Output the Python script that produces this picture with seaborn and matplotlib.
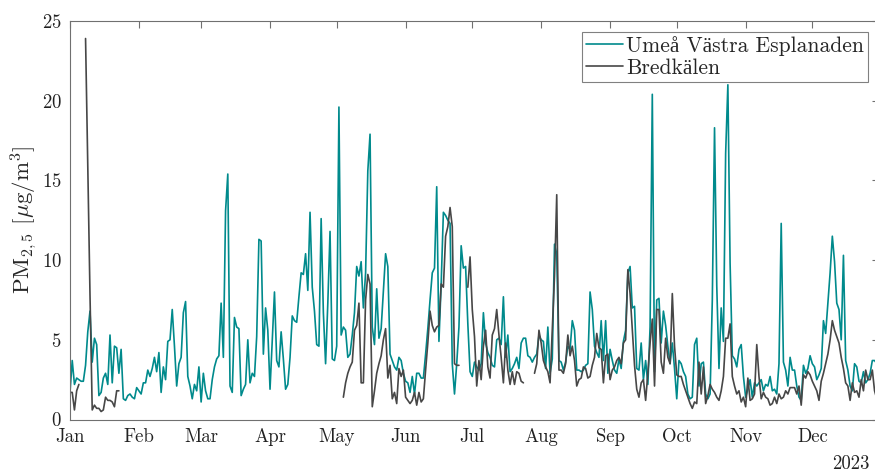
import numpy as np
import pandas as pd
import matplotlib
matplotlib.use("Agg")
import matplotlib.pyplot as plt
import matplotlib.dates as mdates
import seaborn as sns

nan = np.nan

# Daily PM2.5 values 2023, Umeå Västra Esplanaden (by month)
ume_jan = [1.7, 3.7, 2.2, 2.6, 2.5, 2.4, 2.4, 3.4, 5.5, 6.8, 3.6, 5.1, 4.7, 1.5, 1.7, 2.6, 2.9, 2.2, 5.3, 2.3,
           4.6, 4.5, 2.9, 4.4, 1.3, 1.2, 1.5, 1.6, 1.4, 1.3, 2.0]
ume_feb = [1.8, 1.6, 2.3, 2.3, 3.1, 2.7, 3.2, 3.9, 3.0, 4.2, 1.7, 3.3, 2.5, 4.9, 5.0, 6.9, 4.6, 2.1, 3.5, 3.9,
           6.7, 7.4, 2.7, 2.1, 1.3, 2.2, 1.8, 3.3]
ume_mar = [1.1, 2.9, 1.8, 1.3, 1.3, 2.5, 3.3, 3.8, 4.0, 7.3, 3.9, 13.1, 15.4, 2.1, 1.7, 6.4, 5.8, 5.7, 1.5, 1.9,
           2.2, 5.0, 2.3, 2.9, 2.7, 5.2, 11.3, 11.2, 4.1, 7.0, 5.6]
ume_apr = [1.9, 5.0, 8.0, 3.7, 3.3, 5.5, 3.8, 1.9, 2.2, 3.9, 6.5, 6.2, 6.1, 7.7, 9.2, 9.1, 10.4, 8.1, 13.0, 8.3,
           6.8, 4.7, 4.6, 12.6, 6.7, 3.5, 7.3, 11.8, 3.8, 3.7]
ume_may = [4.6, 19.6, 5.3, 5.8, 5.6, 3.9, 4.1, 5.3, 6.7, 9.6, 9.0, 9.9, 7.0, 9.2, 15.6, 17.9, 5.8, 4.7, 8.2, 5.1,
           5.7, 8.0, 10.4, 9.6, 4.1, 3.7, 3.3, 3.1, 3.9, 3.7, 2.9]
ume_jun = [2.4, 2.3, 1.7, 2.7, 1.6, 2.9, 2.9, 2.6, 2.6, 4.1, 5.7, 7.5, 9.2, 9.5, 14.6, 4.9, 8.5, 13.0, 12.8, 12.5,
           12.3, 3.5, 1.6, 3.5, 5.8, 10.9, 9.5, 9.6, 6.0, 3.0]
ume_jul = [2.7, 3.6, 3.3, 3.1, 3.5, 6.7, 4.8, 4.2, 3.9, 3.4, 3.3, 5.0, 5.1, 4.7, 7.7, 3.9, 5.3, 3.0, 3.2, 3.5,
           3.9, 3.2, 4.8, 5.1, 5.1, 4.0, 3.9, 3.6, 3.9, 4.1, 5.3]
ume_aug = [5.0, 4.9, 3.2, 5.8, 2.9, 3.8, 11.0, 10.4, 3.7, 3.6, 3.1, 3.6, 4.6, 4.4, 6.2, 5.6, 3.1, 3.1, 3.0, 3.1,
           3.4, 3.5, 8.0, 6.9, 4.6, 4.2, 3.9, 6.2, 3.7, 6.2, 2.9]
ume_sep = [4.4, 3.7, 3.1, 2.9, 3.8, 3.2, 4.9, 5.6, 9.2, 9.6, 7.0, 7.1, 3.2, 3.1, 4.8, 2.5, 3.7, 2.2, 5.8, 20.4,
           3.0, 7.5, 7.6, 4.8, 6.8, 5.9, 4.6, 3.5, 4.8, 3.2]
ume_oct = [1.3, 3.7, 3.5, 3.0, 2.7, 1.6, 1.3, 1.4, 4.7, 5.1, 2.1, 3.5, 3.6, 1.6, 1.3, 1.6, 7.5, 18.3, 8.4, 3.2,
           7.0, 4.9, 16.7, 21.0, 9.8, 4.0, 3.8, 3.3, 4.4, 4.7, 2.7]
ume_nov = [1.4, 1.9, 2.5, 1.4, 2.3, 2.1, 2.3, 2.5, 1.8, 2.2, 2.1, 2.7, 1.8, 1.9, 1.6, 3.5, 12.3, 3.6, 3.1, 2.1,
           3.9, 3.1, 3.1, 2.1, 1.4, 1.2, 3.4, 2.9, 3.2, 4.0]
ume_dec = [3.5, 3.3, 2.5, 2.8, 3.2, 6.2, 5.4, 7.3, 9.2, 11.5, 9.9, 7.3, 6.9, 5.0, 10.3, 3.7, 3.1, 2.1, 1.8, 3.5,
           3.3, 2.4, 2.3, 3.0, 2.3, 2.5, 2.9, 3.7, 3.7, 3.5, 3.8]

# Daily PM2.5 values 2023, Bredkälen (NaN = missing)
bre_jan = [1.7, 1.7, 0.6, 1.8, 2.2, nan, nan, 23.9, 15.9, 7.8, 0.6, 0.9, 0.7, 0.7, 0.5, 0.6, 1.4, 1.2, 1.2, 1.1,
           0.8, 1.8, 1.8, nan, nan, nan, nan, nan, nan, nan, nan]
bre_feb = [nan] * 28
bre_mar = [nan] * 31
bre_apr = [nan] * 30
bre_may = [nan, nan, nan, 1.4, 2.3, 2.9, 3.3, 3.6, 5.6, 5.9, 7.3, 2.3, 2.3, 7.5, 9.1, 8.5, 0.8, 1.8, 2.9, 3.5,
           4.0, 5.0, 5.7, 2.6, 3.4, 1.3, 1.7, 1.0, 3.2, 2.7, 3.1]
bre_jun = [1.4, 1.2, 1.0, 1.2, 1.7, 0.9, 1.7, 1.1, 1.3, 3.1, 4.8, 6.8, 5.9, 5.5, 5.8, 5.9, 8.5, 8.3, 11.5, 12.1,
           13.3, 12.1, 3.5, 3.4, 3.4, nan, nan, nan, 8.3, 10.2]
bre_jul = [6.9, 5.2, 2.1, 3.7, 2.5, 4.6, 5.6, 3.3, 2.6, 5.3, 5.7, 6.9, 5.3, 3.9, 2.3, 4.8, 3.1, 2.2, 3.0, 2.2,
           3.0, 2.9, 2.4, 2.3, nan, nan, nan, nan, 2.9, 3.5, 5.6]
bre_aug = [4.8, 3.7, 3.3, 3.0, 2.3, 5.6, 9.0, 14.1, 3.1, 3.1, 2.9, 3.5, 5.3, 4.0, 4.6, 3.7, 2.1, 2.5, 2.6, 3.3,
           3.2, 2.6, 2.7, 3.4, 3.9, 5.4, 4.5, 4.4, 2.3, 4.0, 4.1]
bre_sep = [2.5, 3.1, 3.3, 3.7, 3.9, 3.5, 4.8, 5.0, 9.4, 7.9, 5.7, 3.4, 1.9, 1.4, 2.3, 2.5, 1.2, 2.9, 4.8, 6.3,
           2.1, 6.9, 6.9, 3.6, 2.9, 5.1, 3.9, 3.5, 7.9, 4.6]
bre_oct = [2.8, 2.7, 2.7, 2.2, 1.8, 1.4, 1.0, 0.7, 1.1, 1.0, 3.6, 1.6, 3.3, 1.0, 1.5, 2.2, 1.9, 1.7, 1.4, 1.2,
           1.8, 2.7, 5.1, 5.1, 6.0, 2.7, 2.1, 1.6, 1.8, 1.1, 1.4]
bre_nov = [0.8, 2.6, 1.2, 1.3, 1.6, 4.7, 2.7, 1.3, 1.7, 1.4, 1.3, 0.9, 1.0, 1.4, 1.0, 1.6, 1.3, 1.4, 1.8, 1.6,
           2.0, 2.0, 2.0, 1.6, 2.1, 0.9, 2.8, 2.6, 3.0, 2.8]
bre_dec = [2.4, 2.1, 1.8, 1.2, 2.4, 2.9, 3.5, 4.1, 5.0, 6.2, 5.6, 5.2, 4.8, 3.9, 3.2, 2.3, 2.1, 1.2, 2.3, 1.7,
           1.8, 1.4, 2.5, 1.8, 3.1, 2.5, 2.5, 3.1, 1.8, 1.3, 1.3]

station_names = ["Umeå Västra Esplanaden", "Bredkälen"]
station_colors = ["#008a8c", "#474747"]
year_label = "2023"

ume = sum([ume_jan, ume_feb, ume_mar, ume_apr, ume_may, ume_jun, ume_jul, ume_aug,
           ume_sep, ume_oct, ume_nov, ume_dec], [])
bre = sum([bre_jan, bre_feb, bre_mar, bre_apr, bre_may, bre_jun, bre_jul, bre_aug,
           bre_sep, bre_oct, bre_nov, bre_dec], [])
dates = pd.date_range("2023-01-01", periods=len(ume), freq="D")

frames = []
for name, vals in zip(station_names, [ume, bre]):
    s = pd.Series(vals, index=dates)
    seg = s.isna().cumsum()
    d = pd.DataFrame({"date": dates, "value": s.values, "station": name,
                      "segment": [f"{name}_{k}" for k in seg.values]})
    frames.append(d.dropna(subset=["value"]))
df = pd.concat(frames, ignore_index=True)

sns.set_theme(style="white")
plt.rcParams["font.family"] = ["cmr10", "Liberation Serif"]
plt.rcParams["mathtext.fontset"] = "cm"
plt.rcParams["axes.formatter.use_mathtext"] = True
plt.rcParams["axes.unicode_minus"] = False

fig = plt.figure(figsize=(8.75, 4.72), dpi=100)
ax = fig.add_axes([70 / 875, 1 - 419.5 / 472, (879 - 70) / 875, (419.5 - 21) / 472])

sns.lineplot(data=df, x="date", y="value", hue="station", units="segment", estimator=None,
             palette=dict(zip(station_names, station_colors)), hue_order=station_names,
             linewidth=1.2, ax=ax)

ax.set_xlim(pd.Timestamp("2023-01-01"), pd.Timestamp("2023-12-31"))
ax.set_ylim(0, 25)
ax.set_yticks([0, 5, 10, 15, 20, 25])
ax.xaxis.set_major_locator(mdates.MonthLocator())
ax.xaxis.set_major_formatter(mdates.DateFormatter("%b"))
ax.set_xlabel("")
ax.set_ylabel(r"PM$_{2,5}$ [$\mu$g/m$^3$]", fontsize=16.5, labelpad=2)

for sp in ax.spines.values():
    sp.set_visible(True)
    sp.set_color("#707070")
    sp.set_linewidth(0.8)
ax.tick_params(direction="in", length=5, width=0.8, color="#707070", top=True, right=True,
               labelsize=13.5, pad=6, labelcolor="#222222")

handles, labels = ax.get_legend_handles_labels()
leg = ax.legend(handles, labels, loc="upper right", frameon=True, fancybox=False,
                edgecolor="#808080", framealpha=1, fontsize=15.5, handlelength=1.7,
                handletextpad=0.15, borderaxespad=0.5, borderpad=0.2, labelspacing=0.1)
leg.get_frame().set_linewidth(0.8)

fig.text(0.994, 1 - 469 / 472, year_label, ha="right", va="baseline", fontsize=13.5, color="#222222")

fig.savefig("out.png", dpi=100)
